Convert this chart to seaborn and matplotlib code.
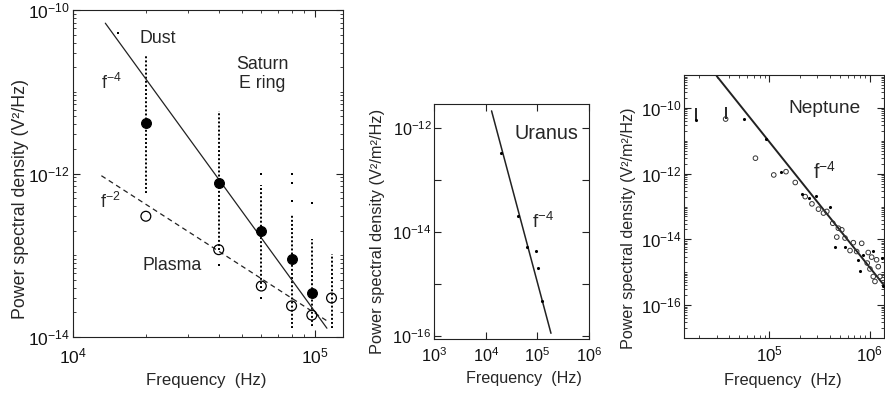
import numpy as np
import pandas as pd
import matplotlib
matplotlib.use("Agg")
import matplotlib.pyplot as plt
import seaborn as sns
from matplotlib.ticker import FixedLocator, FixedFormatter, LogLocator, NullFormatter, NullLocator

# ---------------- Saturn E ring (left panel) ----------------
saturn_dust_f = [2.0e4, 4.0e4, 6.0e4, 8.0e4, 9.7e4]
saturn_dust_p = [4.2e-12, 7.6e-13, 2.0e-13, 8.9e-14, 3.5e-14]
saturn_plasma_f = [2.0e4, 4.0e4, 6.0e4, 8.0e4, 9.7e4, 1.17e5]
saturn_plasma_p = [3.0e-13, 1.17e-13, 4.2e-14, 2.4e-14, 1.85e-14, 3.0e-14]
# spread of individual spectra at each frequency (dotted columns)
saturn_spread_f = [2.0e4, 4.0e4, 6.0e4, 8.0e4, 9.7e4, 1.17e5]
saturn_spread_top = [2.8e-11, 5.8e-12, 7.2e-13, 3.2e-13, 1.6e-13, 1.05e-13]
saturn_spread_bottom = [5.8e-13, 1.15e-13, 4.0e-14, 1.3e-14, 1.35e-14, 1.3e-14]
saturn_iso_f = [1.54e4, 4.0e4, 6.0e4, 6.0e4, 8.0e4, 8.0e4, 8.0e4, 9.7e4]
saturn_iso_p = [5.2e-11, 7.6e-14, 1.0e-12, 3.0e-14, 1.0e-12, 7.6e-13, 4.6e-13, 4.4e-13]
dust_fit_f = [1.36e4, 1.12e5]
dust_fit_p = [6.9e-11, 1.28e-14]
plasma_fit_f = [1.31e4, 1.13e5]
plasma_fit_p = [9.4e-13, 1.55e-14]

# ---------------- Uranus (middle panel) ----------------
uranus_f = [1.96e4, 4.13e4, 6.34e4, 9.35e4, 1.04e5, 1.21e5]
uranus_p = [3.2e-13, 2.0e-14, 5.1e-15, 4.3e-15, 2.0e-15, 4.7e-16]
uranus_fit_f = [1.29e4, 1.83e5]
uranus_fit_p = [2.1e-12, 1.12e-16]

# ---------------- Neptune (right panel), log10 values ----------------
neptune_circle_logf = [4.564, 4.861, 5.043, 5.165, 5.257, 5.356, 5.423, 5.488, 5.538, 5.571,
                       5.630, 5.686, 5.720, 5.670, 5.752, 5.802, 5.835, 5.868, 5.918, 5.983,
                       6.017, 5.973, 6.000, 6.066, 6.083, 6.033, 6.100, 6.050]
neptune_circle_logp = [-10.34, -11.53, -12.04, -11.94, -12.27, -12.70, -12.92, -13.08, -13.20, -13.15,
                       -13.51, -13.66, -13.71, -13.93, -13.96, -14.34, -14.10, -14.37, -14.12, -14.40,
                       -14.54, -14.72, -14.90, -14.62, -14.83, -15.13, -15.13, -15.28]
neptune_dot_logf = [4.274, 4.746, 4.967, 5.116, 5.324, 5.389, 5.465, 5.604, 5.653, 5.752,
                    5.884, 5.934, 6.033, 5.900, 6.116, 6.130]
neptune_dot_logp = [-10.37, -10.35, -10.95, -11.94, -12.62, -12.75, -12.68, -13.00, -14.22, -14.22,
                    -14.62, -14.47, -14.34, -14.95, -14.57, -15.43]
neptune_bar_logf = [4.274, 4.564]
neptune_bar_top = [-10.00, -9.97]
neptune_bar_bottom = [-10.37, -10.34]
neptune_fit_logf = [4.475, 6.149]
neptune_fit_logp = [-9.03, -15.43]

# ---------------- style ----------------
sns.set_theme(style="white")
plt.rcParams["font.family"] = ["Liberation Sans", "DejaVu Sans"]
plt.rcParams["mathtext.fontset"] = "custom"
plt.rcParams["mathtext.rm"] = "Liberation Sans"
plt.rcParams["mathtext.it"] = "Liberation Sans:italic"
plt.rcParams["mathtext.bf"] = "Liberation Sans:bold"
plt.rcParams["mathtext.default"] = "rm"

INK = "#222222"

fig = plt.figure(figsize=(8.85, 3.95), dpi=100)
fig.patch.set_facecolor("white")

ax1 = fig.add_axes([73 / 885, 58 / 395, 270 / 885, 327 / 395])
ax2 = fig.add_axes([434.3 / 885, 56 / 395, 154.7 / 885, 235 / 395])
ax3 = fig.add_axes([684 / 885, 57 / 395, 200 / 885, 263 / 395])


def expo(v):
    return r"$10^{%d}$" % v


def style_axes(ax, tick_fs, xpad=5):
    ax.set_facecolor("white")
    for s in ax.spines.values():
        s.set_visible(True)
        s.set_color(INK)
        s.set_linewidth(0.8)
    ax.tick_params(which="both", direction="in", top=True, right=True, bottom=True, left=True,
                   colors=INK, labelcolor="#111111", labelsize=tick_fs)
    ax.tick_params(which="major", length=5, width=0.8)
    ax.tick_params(which="minor", length=2.5, width=0.6)
    ax.tick_params(axis="y", pad=2)
    ax.tick_params(axis="x", pad=xpad)


# ---------- panel 1: Saturn ----------
ax = ax1
P1_ANN = 12.8
ax.set_xscale("log")
ax.set_yscale("log")
ax.vlines(saturn_spread_f, saturn_spread_bottom, saturn_spread_top, colors="black",
          linewidth=1.4, linestyles=[(0, (1.0, 1.1))], zorder=2)
sns.scatterplot(x=saturn_iso_f, y=saturn_iso_p, ax=ax, marker="s", s=3, color="black",
                edgecolor="black", linewidth=0, zorder=2)
sns.lineplot(x=dust_fit_f, y=dust_fit_p, ax=ax, color=INK, linewidth=0.9, zorder=3)
sns.lineplot(x=plasma_fit_f, y=plasma_fit_p, ax=ax, color=INK, linewidth=0.9,
             linestyle=(0, (4, 3)), zorder=3)
sns.scatterplot(x=saturn_dust_f, y=saturn_dust_p, ax=ax, marker="o", s=50, color="black",
                edgecolor="black", linewidth=0.8, zorder=4)
sns.scatterplot(x=saturn_plasma_f, y=saturn_plasma_p, ax=ax, marker="o", s=50, color="black",
                facecolor="none", edgecolor="black", linewidth=0.9, zorder=4)
ax.set_xlim(1e4, 1.305e5)
ax.set_ylim(1e-14, 1e-10)
style_axes(ax, 12.6, xpad=7)
ax.xaxis.set_major_locator(FixedLocator([1e4, 1e5]))
ax.xaxis.set_major_formatter(FixedFormatter([expo(4), expo(5)]))
ax.xaxis.set_minor_locator(LogLocator(base=10, subs=np.arange(2, 10)))
ax.xaxis.set_minor_formatter(NullFormatter())
ax.yaxis.set_major_locator(FixedLocator([1e-14, 1e-12, 1e-10]))
ax.yaxis.set_major_formatter(FixedFormatter([expo(-14), expo(-12), expo(-10)]))
ax.yaxis.set_minor_locator(LogLocator(base=10, subs=np.arange(1, 10), numticks=20))
ax.yaxis.set_minor_formatter(NullFormatter())
ax.text(0.315, 0.914, "Dust", transform=ax.transAxes, ha="center", va="center", fontsize=P1_ANN)
ax.text(0.70, 0.804, "Saturn\nE ring", transform=ax.transAxes, ha="center", va="center",
        fontsize=P1_ANN, linespacing=1.15)
ax.text(0.144, 0.777, r"f$^{-4}$", transform=ax.transAxes, ha="center", va="center", fontsize=P1_ANN)
ax.text(0.137, 0.413, r"f$^{-2}$", transform=ax.transAxes, ha="center", va="center", fontsize=P1_ANN)
ax.text(0.367, 0.220, "Plasma", transform=ax.transAxes, ha="center", va="center", fontsize=P1_ANN)
ax.set_xlabel("Frequency  (Hz)", fontsize=12.1, va="center")
ax.xaxis.set_label_coords(0.495, -0.134)
ax.set_ylabel("Power spectral density (V²/Hz)", fontsize=12.8, va="center")
ax.yaxis.set_label_coords(-0.196, 0.422)

# ---------- panel 2: Uranus ----------
ax = ax2
ax.set_xscale("log")
ax.set_yscale("log")
sns.lineplot(x=uranus_fit_f, y=uranus_fit_p, ax=ax, color=INK, linewidth=1.1, zorder=3)
sns.scatterplot(x=uranus_f, y=uranus_p, ax=ax, marker="o", s=5, color="black",
                edgecolor="black", linewidth=0, zorder=4)
ax.set_xlim(1e3, 1e6)
ax.set_ylim(8.7e-17, 2.85e-12)
style_axes(ax, 11.7)
ax.xaxis.set_major_locator(FixedLocator([1e3, 1e4, 1e5, 1e6]))
ax.xaxis.set_major_formatter(FixedFormatter([expo(3), expo(4), expo(5), expo(6)]))
ax.xaxis.set_minor_locator(NullLocator())
ax.yaxis.set_major_locator(FixedLocator([1e-16, 1e-14, 1e-12]))
ax.yaxis.set_major_formatter(FixedFormatter([expo(-16), expo(-14), expo(-12)]))
ax.yaxis.set_minor_locator(FixedLocator([1e-15, 1e-13]))
ax.yaxis.set_minor_formatter(NullFormatter())
ax.tick_params(axis="y", which="minor", length=5, width=0.8)
ax.text(0.726, 0.875, "Uranus", transform=ax.transAxes, ha="center", va="center", fontsize=14.2)
ax.text(0.70, 0.499, r"f$^{-4}$", transform=ax.transAxes, ha="center", va="center", fontsize=13.5)
ax.set_xlabel("Frequency  (Hz)", fontsize=11.6, va="center")
ax.xaxis.set_label_coords(0.579, -0.166)
ax.set_ylabel("Power spectral density (V²/m²/Hz)", fontsize=11.8, va="center")
ax.yaxis.set_label_coords(-0.366, 0.457)

# ---------- panel 3: Neptune ----------
ax = ax3
ax.set_xscale("log")
ax.set_yscale("log")
nep_fit_f = np.power(10.0, neptune_fit_logf)
nep_fit_p = np.power(10.0, neptune_fit_logp)
sns.lineplot(x=nep_fit_f, y=nep_fit_p, ax=ax, color=INK, linewidth=1.4, zorder=3)
ax.vlines(np.power(10.0, neptune_bar_logf), np.power(10.0, neptune_bar_bottom),
          np.power(10.0, neptune_bar_top), colors="black", linewidth=1.2, zorder=3)
sns.scatterplot(x=np.power(10.0, neptune_circle_logf), y=np.power(10.0, neptune_circle_logp),
                ax=ax, marker="o", s=11, color="black", facecolor="none",
                edgecolor="#333333", linewidth=0.7, zorder=4)
sns.scatterplot(x=np.power(10.0, neptune_dot_logf), y=np.power(10.0, neptune_dot_logp),
                ax=ax, marker="o", s=5, color="black", edgecolor="black", linewidth=0, zorder=4)
ax.set_xlim(10 ** 4.15, 10 ** 6.14)
ax.set_ylim(1e-17, 1e-9)
style_axes(ax, 12.2)
ax.xaxis.set_major_locator(FixedLocator([1e5, 1e6]))
ax.xaxis.set_major_formatter(FixedFormatter([expo(5), expo(6)]))
ax.xaxis.set_minor_locator(LogLocator(base=10, subs=np.arange(2, 10)))
ax.xaxis.set_minor_formatter(NullFormatter())
ax.yaxis.set_major_locator(FixedLocator([1e-16, 1e-14, 1e-12, 1e-10]))
ax.yaxis.set_major_formatter(FixedFormatter([expo(-16), expo(-14), expo(-12), expo(-10)]))
ax.yaxis.set_minor_locator(LogLocator(base=10, subs=np.arange(1, 10), numticks=30))
ax.yaxis.set_minor_formatter(NullFormatter())
ax.text(0.705, 0.873, "Neptune", transform=ax.transAxes, ha="center", va="center", fontsize=13.8)
ax.text(0.705, 0.632, r"f$^{-4}$", transform=ax.transAxes, ha="center", va="center", fontsize=14.2)
ax.set_xlabel("Frequency  (Hz)", fontsize=11.8, va="center")
ax.xaxis.set_label_coords(0.4925, -0.16)
ax.set_ylabel("Power spectral density (V²/m²/Hz)", fontsize=11.6, va="center")
ax.yaxis.set_label_coords(-0.28, 0.418)

fig.savefig("out.png", dpi=100, facecolor="white")
